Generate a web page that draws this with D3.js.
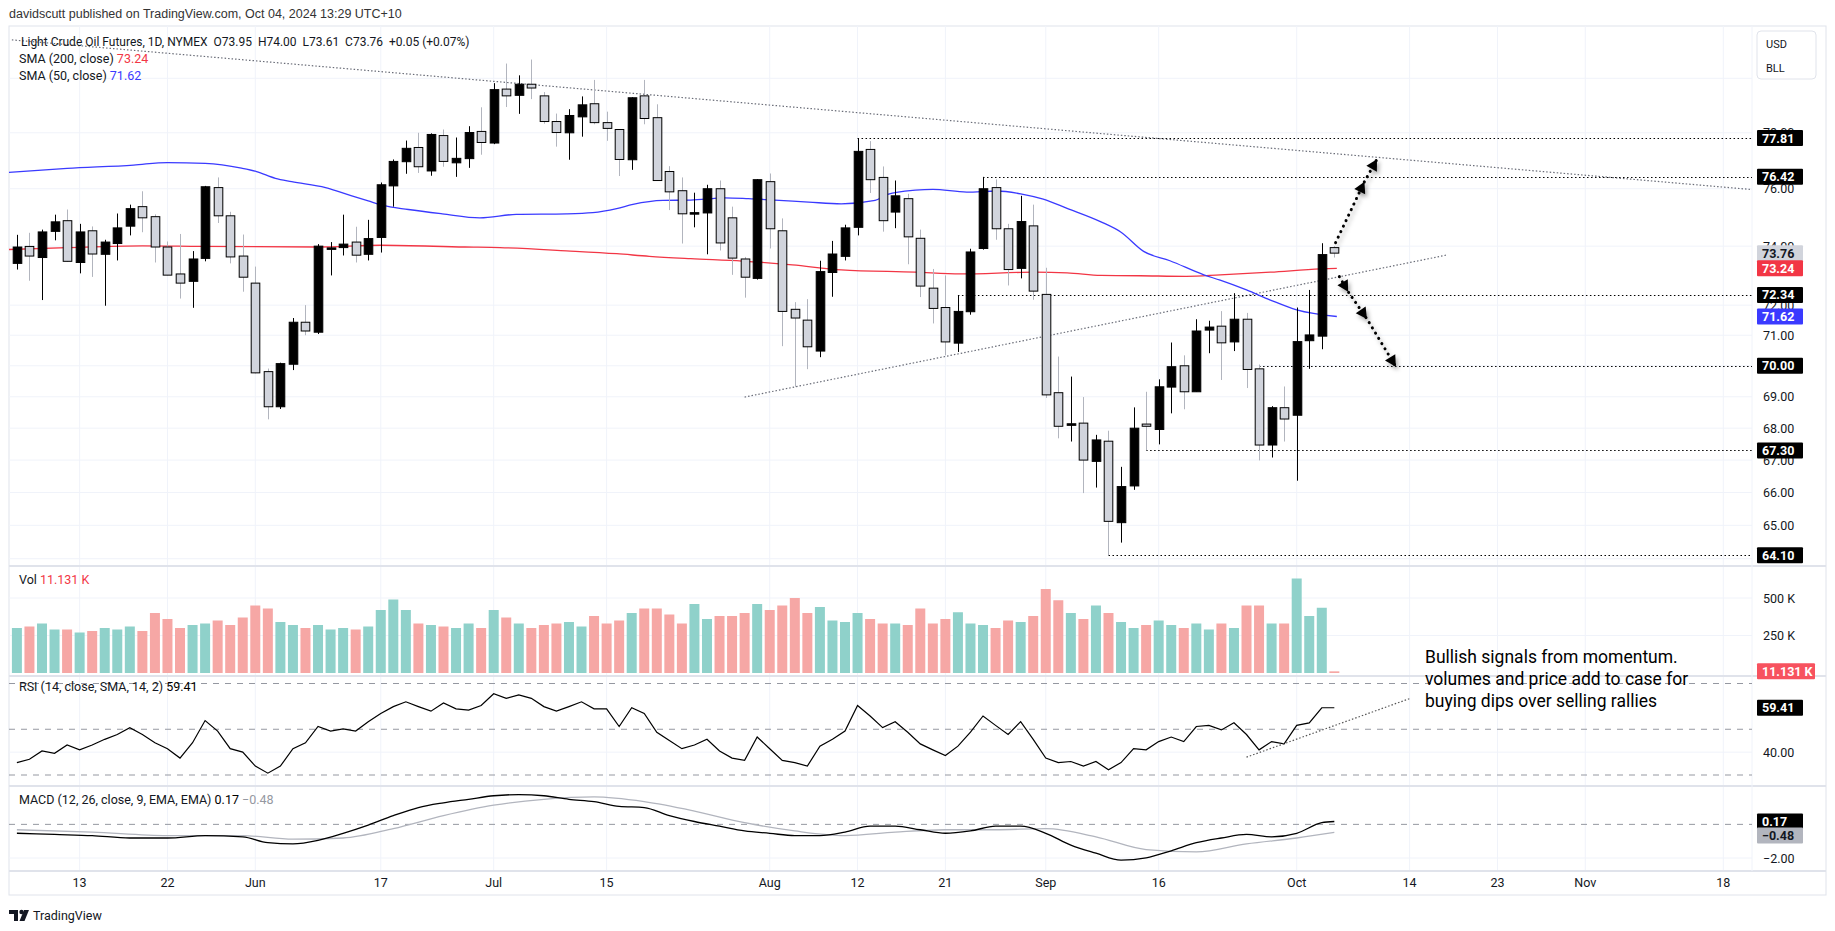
<!DOCTYPE html>
<html><head><meta charset="utf-8">
<script src="https://cdn.jsdelivr.net/npm/d3@7/dist/d3.min.js"></script>
<style>
body{margin:0;background:#fff;}
svg{display:block;font-family:Roboto,"Liberation Sans",sans-serif;}
</style></head>
<body><svg id="c" width="1835" height="931"></svg>
<script>
// ---------------- DATA ----------------
const openP  = [73.41,73.99,73.61,74.51,74.88,73.44,74.53,73.72,74.09,74.69,75.37,75.02,73.97,73.05,72.80,73.58,76.04,75.05,73.66,72.74,69.81,68.68,70.05,71.43,71.10,73.90,73.95,74.14,73.72,74.30,76.10,76.96,77.47,76.63,77.90,76.92,77.07,78.05,77.63,79.60,79.37,79.78,79.35,78.41,78.00,78.58,79.06,78.37,78.12,77.03,79.35,78.55,76.61,75.93,75.11,75.15,76.00,74.98,73.56,72.90,76.25,74.53,71.86,71.50,70.48,73.10,73.65,74.65,77.40,76.40,75.18,75.65,74.27,72.57,71.92,70.74,71.78,73.92,76.04,74.60,73.24,74.70,72.36,69.13,68.09,68.16,66.96,67.59,65.08,66.20,68.13,67.96,69.31,70.00,69.16,71.17,71.30,70.78,71.53,69.90,67.47,68.65,68.41,70.82,70.97,73.95];
const highP  = [74.39,74.46,74.57,75.09,75.27,74.77,74.68,74.22,75.13,75.44,75.91,75.10,74.16,74.42,73.83,76.10,76.40,75.19,74.40,73.30,69.91,70.10,71.57,72.00,74.07,74.14,75.09,74.67,74.91,76.22,77.04,77.72,78.00,77.98,78.12,77.83,78.24,78.93,79.82,80.55,80.11,80.70,79.49,78.70,78.86,79.33,79.94,78.77,78.12,79.30,79.94,79.04,76.80,76.40,75.86,76.14,76.29,75.37,73.63,76.34,76.54,74.96,72.10,72.20,73.50,74.18,74.74,77.81,77.70,76.79,76.29,75.82,74.57,73.22,73.00,72.34,73.91,76.42,76.33,74.77,75.75,75.44,73.26,70.30,69.65,68.99,67.79,67.92,66.79,68.66,69.16,69.56,70.76,70.34,71.53,71.48,71.80,72.40,71.74,70.04,68.70,69.33,71.92,72.51,74.10,74.00];
const lowP   = [73.20,72.82,72.17,74.20,73.46,73.07,72.95,71.98,73.51,74.37,74.48,73.44,73.00,72.22,71.91,73.48,74.80,73.41,72.45,69.75,68.28,68.61,69.86,71.00,71.04,73.00,73.68,73.44,73.51,73.78,75.37,76.53,76.56,76.46,76.78,76.42,76.74,77.21,77.59,78.94,78.69,79.23,78.33,77.50,77.03,77.86,78.31,77.71,76.45,76.67,78.31,76.29,75.25,74.09,74.65,73.72,73.85,73.02,72.25,72.86,73.92,70.64,69.32,69.89,70.28,72.28,73.51,74.37,75.85,74.50,74.62,73.38,72.27,71.39,70.34,70.45,71.68,73.88,74.22,72.66,72.90,72.18,68.96,67.68,67.58,65.98,66.15,64.10,64.48,66.08,67.30,67.49,68.47,68.60,69.16,70.41,69.54,70.48,69.28,66.99,67.08,67.58,66.36,69.90,70.54,73.61];
const closeP = [73.97,73.66,74.49,74.84,73.48,74.49,73.73,74.14,74.63,75.30,74.98,73.97,73.01,72.74,73.56,76.07,75.05,73.63,72.94,69.77,68.68,70.07,71.43,71.14,74.00,73.94,74.07,73.69,74.26,76.14,76.97,77.44,76.78,77.94,76.97,77.08,78.01,77.65,79.58,79.35,79.78,79.64,78.41,78.01,78.63,79.02,78.37,78.16,77.04,79.28,78.52,76.29,75.89,75.12,75.16,76.00,74.11,73.59,72.94,76.32,74.60,71.79,71.57,70.62,73.13,73.73,74.63,77.33,76.32,74.88,75.75,74.32,72.64,71.89,70.78,71.79,73.80,76.00,74.60,73.20,74.85,72.47,69.06,68.06,68.14,67.00,67.63,65.12,66.18,68.00,68.06,69.32,69.97,69.16,71.14,71.27,70.75,71.53,69.88,67.47,68.65,68.29,70.79,71.01,73.71,73.76];
// volume in thousands
const volumeK = [300,310,330,290,290,270,280,300,290,310,280,400,360,300,320,330,350,320,370,450,430,340,320,300,320,290,300,290,310,420,490,420,330,320,310,300,330,300,420,370,330,300,320,330,340,310,380,330,350,400,430,430,390,330,460,360,380,380,400,460,420,450,500,400,440,350,340,400,360,330,330,320,430,330,360,405,330,320,300,350,340,380,560,485,400,360,450,400,340,300,320,350,320,300,330,290,330,300,450,450,330,330,630,380,435,11.131];
const rsiVal = [35.4,36.9,40.5,39.5,43.1,41.0,43.1,45.6,47.7,50.7,
 47.7,44.1,41.5,37.4,44.1,53.8,49.2,41.5,40.0,33.9,
 30.8,33.9,41.5,44.1,51.2,49.2,50.2,49.2,53.3,56.9,
 59.9,62.0,59.9,57.9,61.5,58.9,58.4,60.4,65.5,63.5,
 65.0,63.5,59.9,57.9,59.9,62.0,58.9,58.9,51.2,59.4,
 56.9,48.7,45.1,41.5,43.1,45.6,40.5,37.4,36.4,46.6,
 41.5,36.4,35.4,33.9,42.6,45.6,49.2,60.4,55.8,50.7,
 53.3,48.7,43.6,41.0,38.5,42.6,48.7,55.8,51.7,47.7,
 53.3,45.6,37.4,35.4,35.9,33.9,35.9,32.3,35.4,41.5,
 41.0,44.6,46.6,44.6,51.2,51.7,49.7,52.8,47.7,41.0,
 44.6,43.6,51.7,52.8,59.4,59.41];
const macdIdx = [0,3,6,9,12,15,18,20,22,24,26,28,30,32,34,36,38,40,42,44,46,48,50,52,54,56,58,60,62,64,66,68,70,72,74,76,78,80,82,84,86,88,90,92,94,96,98,100,102,104,105];
const macdVal = [-0.53,-0.60,-0.67,-0.81,-0.81,-0.67,-0.74,-1.09,-1.16,-0.95,-0.53,-0.04,0.52,1.00,1.28,1.49,1.70,1.77,1.70,1.49,1.35,1.07,1.00,0.52,0.17,-0.11,-0.39,-0.53,-0.67,-0.67,-0.46,-0.11,-0.11,-0.32,-0.53,-0.39,-0.11,-0.11,-0.53,-1.23,-1.71,-2.13,-1.99,-1.57,-1.09,-0.81,-0.60,-0.74,-0.53,0.10,0.17];
const signalIdx = [0,6,12,18,22,26,30,34,38,42,46,50,54,58,62,66,70,74,78,82,86,90,94,98,102,105];
const signalVal = [-0.32,-0.46,-0.67,-0.67,-0.88,-0.81,-0.25,0.52,1.14,1.49,1.63,1.35,0.79,0.10,-0.39,-0.67,-0.46,-0.32,-0.32,-0.25,-0.74,-1.50,-1.64,-1.16,-0.81,-0.48];
const sma200Idx = [-1,4,10,14.6,24,29,35.7,38.5,43.8,47.8,50.4,53.7,57.8,61.8,65.7,71.6,75.2,81.1,83.7,86.4,89.5,93.2,95.9,99.9,103.9,105.2];
const sma200Val = [73.88,73.95,74.01,73.99,73.97,74.03,73.97,73.95,73.84,73.74,73.65,73.57,73.49,73.36,73.19,73.11,73.05,73.11,73.09,73.00,72.99,72.97,73.02,73.11,73.22,73.24];
const sma50Idx = [-1,4,9.3,12,15,17.9,19.1,20.6,21.9,24.6,25.9,28,29.1,31.2,33.9,36.9,39.8,43.8,45.9,47.8,49.1,51.5,53.7,56.4,58.3,60.4,63.1,65.7,68.4,69.4,71.6,73,75.7,78.1,80,81.8,83.7,86.4,88,89.8,91.9,94.6,95.9,98,99.9,102,105.2];
const sma50Val = [76.57,76.72,76.84,76.93,76.90,76.73,76.61,76.37,76.25,76.04,75.86,75.57,75.42,75.27,75.12,74.98,75.10,75.12,75.16,75.30,75.45,75.59,75.60,75.68,75.65,75.60,75.53,75.47,75.59,75.80,75.95,75.98,75.88,75.92,75.82,75.63,75.31,74.84,74.48,73.82,73.50,73.02,72.84,72.51,72.17,71.84,71.62];
const tickLabels = ["13","22","Jun","17","Jul","15","Aug","12","21","Sep","16","Oct","14","23","Nov","18"];
const tickIdx    = [5,12,19,29,38,47,60,67,74,82,91,102,111,118,125,136];
const priceTicks = [80,78,76,74,72,71,70,69,68,67,66,65,64];
const levelPrice = [77.81,76.42,72.34,70.00,67.30,64.10];
const levelStart = [67,77,75,99,90,87];
const trendDown = [[-0.4,81.44],[138.3,75.97]];
const trendUp   = [[58.0,68.99],[113.9,73.69]];
const arrowUp   = [[105.1,74.12],[107.4,76.25],[108.4,77.05]];
const arrowDown = [[105.4,72.96],[106.1,72.45],[107.6,71.54],[109.9,69.97]];
const rsiTrend  = [[98.0,37.8],[111.0,63.4]];
const noteLines = ["Bullish signals from momentum.","volumes and price add to case for","buying dips over selling rallies"];

// ---------------- LAYOUT ----------------
const svg = d3.select("#c");
const PL = 9, PR = 1752, AXR = 1826;
const P = {price:[26,566], vol:[566,676], rsi:[676,786], macd:[786,871]};
const BOT = 895;
const x = d3.scaleLinear().domain([0,1]).range([16.9,29.447]);
const yP = d3.scaleLog().domain([64,80]).range([558.7,78.3]);
const yV = d3.scaleLinear().domain([0,500]).range([673,598]);
const yR = d3.scaleLinear().domain([30,70]).range([775,683.5]);
const yM = d3.scaleLinear().domain([-2,0.17]).range([858,821.5]);
const grid = "#f0f3fa", txt = "#131722";
const UP = "#000000", DN = "#d1d4dc";

const defs = svg.append("defs");
Object.entries(P).forEach(([k,[a,b]])=>{
  defs.append("clipPath").attr("id","clip-"+k).append("rect")
    .attr("x",PL).attr("y",a).attr("width",PR-PL).attr("height",b-a);
});
const f = defs.append("filter").attr("id","shadow").attr("x","-50%").attr("y","-50%").attr("width","200%").attr("height","200%");
f.append("feDropShadow").attr("dx",2).attr("dy",3).attr("stdDeviation",2).attr("flood-color","#000").attr("flood-opacity",0.35);

svg.append("text").attr("x",9).attr("y",18).attr("font-size",12.5).attr("fill","#333")
  .attr("font-family","Liberation Sans, Arial, sans-serif")
  .text("davidscutt published on TradingView.com, Oct 04, 2024 13:29 UTC+10");

svg.append("rect").attr("x",PL).attr("y",P.price[0]).attr("width",AXR-PL).attr("height",BOT-P.price[0])
  .attr("fill","none").attr("stroke","#e0e3eb");

const gAll = svg.append("g");
tickIdx.forEach(t=>{
  gAll.append("line").attr("x1",x(t)).attr("x2",x(t)).attr("y1",P.price[0]).attr("y2",P.macd[1]).attr("stroke",grid);
});
priceTicks.forEach(p=>{
  gAll.append("line").attr("x1",PL).attr("x2",PR).attr("y1",yP(p)).attr("y2",yP(p)).attr("stroke",grid);
});
[500,250].forEach(v=>gAll.append("line").attr("x1",PL).attr("x2",PR).attr("y1",yV(v)).attr("y2",yV(v)).attr("stroke",grid));
gAll.append("line").attr("x1",PL).attr("x2",PR).attr("y1",yR(40)).attr("y2",yR(40)).attr("stroke",grid);
gAll.append("line").attr("x1",PL).attr("x2",PR).attr("y1",yM(-2)).attr("y2",yM(-2)).attr("stroke",grid);

[P.vol[0],P.rsi[0],P.macd[0],P.macd[1]].forEach(yy=>{
  svg.append("line").attr("x1",PL).attr("x2",AXR).attr("y1",yy).attr("y2",yy).attr("stroke","#e0e3eb").attr("stroke-width",2);
});
svg.append("line").attr("x1",PR).attr("x2",PR).attr("y1",P.price[0]).attr("y2",P.macd[1]).attr("stroke","#f0f3fa");

// ---------- PRICE PANE ----------
const gp = svg.append("g").attr("clip-path","url(#clip-price)");
const idx = d3.range(closeP.length);
const lineP = d3.line().x(d=>x(d[0])).y(d=>yP(d[1]));
gp.append("path").attr("d",lineP(trendDown)).attr("stroke","#6a6d78").attr("stroke-width",1.2).attr("stroke-dasharray","1.5,2").attr("fill","none");
gp.append("path").attr("d",lineP(trendUp)).attr("stroke","#6a6d78").attr("stroke-width",1.2).attr("stroke-dasharray","1.5,2").attr("fill","none");
levelPrice.forEach((p,i)=>{
  gp.append("line").attr("x1",x(levelStart[i])).attr("x2",PR).attr("y1",Math.round(yP(p))+0.5).attr("y2",Math.round(yP(p))+0.5)
    .attr("stroke","#000").attr("stroke-width",1).attr("stroke-dasharray","1.5,2.5");
});
const smaLine = d3.line().curve(d3.curveMonotoneX).x(d=>x(d[0])).y(d=>yP(d[1]));
gp.append("path").attr("d",smaLine(sma200Idx.map((v,i)=>[v,sma200Val[i]]))).attr("stroke","#f23645").attr("stroke-width",1.3).attr("fill","none");
gp.append("path").attr("d",smaLine(sma50Idx.map((v,i)=>[v,sma50Val[i]]))).attr("stroke","#3a3aff").attr("stroke-width",1.3).attr("fill","none");
const bw = 8.6;
idx.forEach(i=>{
  const up = closeP[i] >= openP[i];
  const cx = Math.round(x(i))+0.5;
  gp.append("line").attr("x1",cx).attr("x2",cx).attr("y1",yP(highP[i])).attr("y2",yP(lowP[i]))
    .attr("stroke",up?"#000":"#b2b5be").attr("stroke-width",1);
  const yt = yP(Math.max(openP[i],closeP[i])), yb = yP(Math.min(openP[i],closeP[i]));
  gp.append("rect").attr("x",cx-bw/2).attr("y",yt).attr("width",bw).attr("height",Math.max(1.5,yb-yt))
    .attr("fill",up?UP:DN).attr("stroke","#000").attr("stroke-width",1);
});
function drawArrow(pts, heads){
  const g = gp.append("g").attr("filter","url(#shadow)");
  const pp = pts.map(d=>[x(d[0]),yP(d[1])]);
  g.append("path").attr("d",d3.line()(pp)).attr("stroke","#000").attr("stroke-width",3)
    .attr("stroke-dasharray","0.1,6").attr("stroke-linecap","round").attr("fill","none");
  heads.forEach(k=>{
    const a = pp[k], b = pp[k-1];
    const ang = Math.atan2(a[1]-b[1], a[0]-b[0]);
    const L=11, Wd=6;
    const p1=[a[0]-L*Math.cos(ang)+Wd*Math.sin(ang), a[1]-L*Math.sin(ang)-Wd*Math.cos(ang)];
    const p2=[a[0]-L*Math.cos(ang)-Wd*Math.sin(ang), a[1]-L*Math.sin(ang)+Wd*Math.cos(ang)];
    g.append("path").attr("d","M"+a+"L"+p1+"L"+p2+"Z").attr("fill","#000");
  });
}
drawArrow(arrowUp,[1,2]);
drawArrow(arrowDown,[1,2,3]);

const leg = svg.append("g").attr("font-size",12).attr("fill",txt);
leg.append("text").attr("x",21).attr("y",46).attr("xml:space","preserve").text("Light Crude Oil Futures, 1D, NYMEX  O73.95  H74.00  L73.61  C73.76  +0.05 (+0.07%)");
const l2 = leg.append("text").attr("x",19).attr("y",63).attr("font-size",12.5);
l2.append("tspan").text("SMA (200, close)  ");
l2.append("tspan").attr("fill","#f23645").text("73.24");
const l3 = leg.append("text").attr("x",19).attr("y",80).attr("font-size",12.5);
l3.append("tspan").text("SMA (50, close)  ");
l3.append("tspan").attr("fill","#3a3aff").text("71.62");

// ---------- VOLUME ----------
const gv = svg.append("g").attr("clip-path","url(#clip-vol)");
idx.forEach(i=>{
  const up = closeP[i] >= openP[i];
  gv.append("rect").attr("x",x(i)-5).attr("width",10).attr("y",yV(volumeK[i])).attr("height",yV(0)-yV(volumeK[i]))
    .attr("fill",up?"#8fd1ca":"#f6a7a5");
});
const lv = svg.append("text").attr("x",19).attr("y",P.vol[0]+18).attr("font-size",12.5).attr("fill",txt);
lv.append("tspan").text("Vol  ");
lv.append("tspan").attr("fill","#f23645").text("11.131 K");

// ---------- RSI ----------
const gr = svg.append("g").attr("clip-path","url(#clip-rsi)");
[70,50,30].forEach(v=>gr.append("line").attr("x1",PL).attr("x2",PR).attr("y1",yR(v)).attr("y2",yR(v))
  .attr("stroke","#9598a1").attr("stroke-dasharray","6,6").attr("stroke-width",1));
gr.append("path").attr("d",d3.line().x((d,i)=>x(i)).y(d=>yR(d))(rsiVal)).attr("stroke","#000").attr("stroke-width",1.2).attr("fill","none");
gr.append("path").attr("d",d3.line().x(d=>x(d[0])).y(d=>yR(d[1]))(rsiTrend)).attr("stroke","#555").attr("stroke-width",1.2).attr("stroke-dasharray","1.5,2").attr("fill","none");
const lr = svg.append("text").attr("x",19).attr("y",P.rsi[0]+15).attr("font-size",12.5).attr("fill",txt);
lr.append("tspan").text("RSI (14, close, SMA, 14, 2)  ");
lr.append("tspan").attr("fill","#000").text("59.41");

// ---------- MACD ----------
const gm = svg.append("g").attr("clip-path","url(#clip-macd)");
gm.append("line").attr("x1",PL).attr("x2",PR).attr("y1",yM(0)).attr("y2",yM(0)).attr("stroke","#9598a1").attr("stroke-dasharray","6,6");
const mLine = d3.line().curve(d3.curveMonotoneX).x(d=>x(d[0])).y(d=>yM(d[1]));
gm.append("path").attr("d",mLine(signalIdx.map((v,i)=>[v,signalVal[i]]))).attr("stroke","#b2b5be").attr("stroke-width",1.3).attr("fill","none");
gm.append("path").attr("d",mLine(macdIdx.map((v,i)=>[v,macdVal[i]]))).attr("stroke","#000").attr("stroke-width",1.3).attr("fill","none");
const lm = svg.append("text").attr("x",19).attr("y",P.macd[0]+18).attr("font-size",12.5).attr("fill",txt);
lm.append("tspan").text("MACD (12, 26, close, 9, EMA, EMA)  ");
lm.append("tspan").attr("fill","#000").text("0.17  ");
lm.append("tspan").attr("fill","#9598a1").text("\u22120.48");

const nt = svg.append("g").attr("font-size",17.5).attr("fill","#000");
noteLines.forEach((s,i)=>nt.append("text").attr("x",1425).attr("y",663+i*22).text(s));

// ---------- X AXIS ----------
tickLabels.forEach((t,i)=>{
  svg.append("text").attr("x",x(tickIdx[i])).attr("y",887).attr("text-anchor","middle").attr("font-size",12.5).attr("fill",txt).text(t);
});

// ---------- RIGHT AXIS ----------
const ax = svg.append("g").attr("font-size",12.5).attr("fill",txt);
priceTicks.filter(p=>p<80 && p>64).forEach(p=>{
  ax.append("text").attr("x",1763).attr("y",yP(p)+4.5).text(p.toFixed(2));
});
function tag(yc, label, bg, fg, w){
  ax.append("rect").attr("x",1757).attr("y",yc-8).attr("width",w||46).attr("height",16).attr("fill",bg).attr("rx",1);
  ax.append("text").attr("x",1762).attr("y",yc+4.5).attr("fill",fg).attr("font-weight","bold").text(label);
}
tag(yP(73.76),"73.76","#d1d4dc","#131722");
tag(yP(73.24),"73.24","#f23645","#fff");
tag(yP(71.62),"71.62","#3a3aff","#fff");
levelPrice.forEach(p=>tag(yP(p),p.toFixed(2),"#000","#fff"));
ax.append("rect").attr("x",1757).attr("y",31).attr("width",59).attr("height",48).attr("rx",4).attr("fill","#fff").attr("stroke","#e0e3eb");
ax.append("text").attr("x",1766).attr("y",48).attr("font-size",11).text("USD");
ax.append("text").attr("x",1766).attr("y",72).attr("font-size",11).text("BLL");
ax.append("text").attr("x",1763).attr("y",yV(500)+4.5).text("500 K");
ax.append("text").attr("x",1763).attr("y",yV(250)+4.5).text("250 K");
tag(yV(11.131),"11.131 K","#f7525f","#fff",58);
ax.append("text").attr("x",1763).attr("y",yR(40)+4.5).text("40.00");
tag(yR(59.41),"59.41","#000","#fff");
ax.append("text").attr("x",1763).attr("y",yM(-2)+4.5).text("\u22122.00");
tag(yM(0.17),"0.17","#000","#fff");
tag(yM(-0.48)+3,"\u22120.48","#b2b5be","#131722");

// TradingView logo (simple shapes) + word
const lg = svg.append("g").attr("fill","#131722");
lg.append("path").attr("d","M9,910 h9 v11 h-4 v-7 h-5 Z");
lg.append("circle").attr("cx",21.5).attr("cy",912).attr("r",2.2);
lg.append("path").attr("d","M24,910 h5 l-4.5,11 h-5 Z");
lg.append("text").attr("x",33).attr("y",920).attr("font-size",12.5).text("TradingView");
</script></body></html>
